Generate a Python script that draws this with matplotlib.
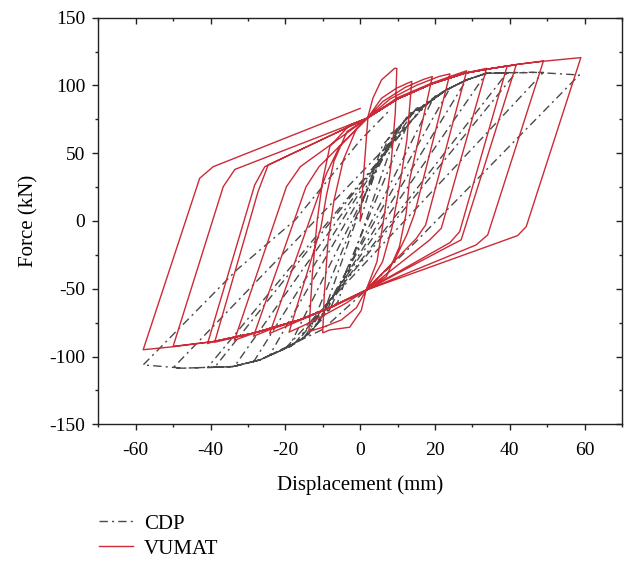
import numpy as np
import matplotlib
matplotlib.use("Agg")
import matplotlib.pyplot as plt
from matplotlib.ticker import MultipleLocator

plt.rcParams['font.family'] = ['Liberation Serif', 'DejaVu Serif']
plt.rcParams['axes.unicode_minus'] = False

# VUMAT hysteresis path (displacement mm, force kN)
vumat_pts = [
    # cycle +-10
    (0, 0), (0.7, 26), (2.1, 77), (3.4, 90.5), (5.7, 104), (9.2, 112.6), (9.8, 112.5),
    (9.4, 80), (8.2, 40), (6.5, 5), (4.5, -30), (1.6, -51), (0.3, -66), (-2.8, -78.4), (-8.1, -80.4), (-10, -82.5),
    (-9.6, -55), (-8.6, -15), (-7, 15), (-4.5, 45), (-1, 68), (2, 76),
    # cycle +-14
    (5.7, 90.5), (9.7, 97.9), (13.2, 102.3), (13.8, 103),
    (12.5, 60), (10.5, 25), (8.5, -5), (6, -30), (1.6, -51), (-1, -64), (-5, -73), (-10, -78.5), (-13.7, -81.5),
    (-12.8, -40), (-11.5, 0), (-10, 30), (-8.1, 55), (-2.8, 70.8), (2, 76),
    # cycle +-19
    (6, 88), (12, 98.5), (17, 104.5), (19.3, 106.5),
    (13.2, 30), (12.3, 5.7), (10.5, -19), (7, -41), (1.6, -51), (-4, -61), (-10, -70), (-15, -77), (-19, -82),
    (-10.5, -5), (-9, 19), (-7, 44), (-3.5, 66), (2, 76),
    # cycle +-24
    (8, 90), (15, 100), (21, 106.5), (24, 108.5),
    (14.5, 5), (12.5, -10), (9, -30), (1.6, -51), (-7.3, -63.2), (-16.2, -73.5), (-24.2, -83),
    (-11, 20), (-9, 35), (-5.5, 55), (2, 76),
    # cycle +-28
    (10, 91), (19, 101.5), (25, 107.5), (28.5, 110.8),
    (17.5, -3), (15, -13), (1.6, -51), (-7.3, -63.2), (-16.2, -73), (-24, -80), (-28.5, -85),
    (-14.5, 25), (-11, 40), (2, 76),
    # cycle +-34
    (10, 90), (19, 101), (28, 109), (33.8, 112.6),
    (21.7, -5.4), (18.6, -14), (1.6, -51), (-7.3, -63), (-16.2, -73), (-28.6, -83), (-33.6, -88),
    (-19.7, 25.3), (-16, 40), (2, 76),
    # cycle +-39
    (10, 90), (19, 101), (28, 109), (34, 112), (39.3, 114.3),
    (26.6, -7.9), (24, -16), (1.6, -51), (-7.3, -63), (-16.2, -73), (-28.6, -82.8), (-38.9, -89.5),
    (-27.3, 21.6), (-24.6, 41.3), (2, 76),
    # cycle +-41
    (10, 90), (19, 101), (28, 109), (34, 112), (39.3, 114.3), (41.7, 115),
    (27, -14), (23.9, -18.4), (1.6, -51), (-7.3, -63), (-16.2, -73), (-28.6, -82.8), (-39.3, -89), (-40.8, -90.5),
    (-28.2, 26.5), (-25.5, 40), (2, 76),
    # cycle +-50
    (10, 90), (19, 101), (28, 109), (34, 112), (42, 115.5), (49, 118),
    (34.1, -10.3), (31, -17.7), (1.6, -51), (-7.3, -63), (-16.2, -73), (-28.6, -82.8), (-39.3, -89), (-50, -92.5),
    (-36.6, 25.3), (-33.5, 38), (2, 76),
    # cycle +-59
    (10, 90), (19, 101), (28, 109), (34, 112), (42, 115.5), (49, 117.8), (59, 120.5),
    (44.4, -4.2), (42.1, -10.8), (1.6, -51), (-7.3, -63), (-16.2, -73), (-28.6, -82.8), (-39.3, -89), (-50, -92.8), (-58, -95),
    (-42.9, 31.5), (-39.3, 40), (0, 83),
]

# CDP hysteresis path
cdp_pts = [
    # cycle +-10
    (0, 0), (5, 45), (10, 68),
    (-6, -60), (-10, -70),
    (6, 56), (10, 68), (14, 80),
    # cycle +-14
    (-8, -65), (-10, -70), (-14, -84),
    (8, 64), (10, 68), (14, 80), (17.7, 86), (19.3, 89),
    # cycle +-19
    (-10, -72), (-15, -86), (-19, -93),
    (10, 68), (14, 80), (17.7, 86), (23, 96.6), (24, 98),
    # cycle +-24
    (-12, -78), (-15, -86), (-20, -94), (-24.2, -99),
    (12, 75), (17.7, 86), (23, 96.6), (28.4, 104),
    # cycle +-28
    (-13, -82), (-15, -86), (-20, -94), (-26.8, -102.5), (-28.5, -104),
    (13, 79), (17.7, 86), (23, 96.6), (28.4, 104), (33.7, 108.9),
    # cycle +-34
    (-15, -86), (-20, -94), (-26.8, -102.5), (-33.6, -107.3),
    (15, 83), (17.7, 86), (23, 96.6), (28.4, 104), (33.7, 108.9), (39.3, 109.4),
    # cycle +-39
    (-17, -90), (-20, -94), (-26.8, -102.5), (-34, -107.4), (-38.9, -108),
    (17, 85.5), (23, 96.6), (28.4, 104), (33.7, 108.9), (41.7, 109.6),
    # cycle +-41
    (-18, -92), (-20, -94), (-26.8, -102.5), (-34, -107.4), (-40.8, -108.2),
    (18, 88), (23, 96.6), (28.4, 104), (33.7, 108.9), (49, 109.6),
    # cycle +-50
    (-20, -94), (-26.8, -102.5), (-34, -107.4), (-47.3, -108.6), (-50, -108.4),
    (20, 92), (23, 96.6), (28.4, 104), (33.7, 108.9), (46.1, 109.7), (58.6, 107.7),
    # cycle +-59
    (33.7, 37.6), (15, -15), (0, -55), (-10, -80), (-19.7, -93), (-26.8, -102.5), (-34, -107.4), (-47.3, -108.6), (-58, -106.2),
    (-32.9, -35.9), (-17.3, 0.9), (0.1, 59.7), (8, 82),
]

vumat_x, vumat_y = np.array(vumat_pts).T
cdp_x, cdp_y = np.array(cdp_pts).T

fig = plt.figure(figsize=(6.27, 5.61), dpi=100)
ax = fig.add_axes([0.1568, 0.2437, 0.992 - 0.1568, 0.9686 - 0.2437])

ax.plot(cdp_x, cdp_y, color='#4a4a4a', lw=1.0, linestyle=(0, (6, 3, 1.5, 3)), label='CDP')
ax.plot(vumat_x, vumat_y, color='#cc2a36', lw=1.0, label='VUMAT')

ax.set_xlim(-70, 70)
ax.set_ylim(-150, 150)
ax.xaxis.set_major_locator(MultipleLocator(20))
ax.xaxis.set_minor_locator(MultipleLocator(10))
ax.yaxis.set_major_locator(MultipleLocator(50))
ax.yaxis.set_minor_locator(MultipleLocator(25))

# Origin style: outward ticks on bottom/left, inward mirror ticks on top/right
ax.tick_params(which='both', direction='out', labelsize=14, width=1.0, color='#222222')
ax.tick_params(which='major', length=4.5, pad=5)
ax.tick_params(which='minor', length=2.5)
ax.tick_params(axis='x', which='major', pad=8)
ax.tick_params(which='both', top=True, right=True)
for t in ax.xaxis.get_ticklines(minor=False)[1::2] + ax.xaxis.get_ticklines(minor=True)[1::2]:
    t.set_marker(3)
for t in ax.yaxis.get_ticklines(minor=False)[1::2] + ax.yaxis.get_ticklines(minor=True)[1::2]:
    t.set_marker(0)
for s in ax.spines.values():
    s.set_linewidth(1.0)
    s.set_color('#222222')

ax.set_xlabel('Displacement (mm)', fontsize=15, labelpad=12)
ax.set_ylabel('Force (kN)', fontsize=15, labelpad=8)

fig.legend(loc='center left', bbox_to_anchor=(0.128, 0.044), frameon=False,
           fontsize=15, handlelength=1.65, handletextpad=0.5, labelspacing=0.25)

fig.savefig('out.png', dpi=100)
